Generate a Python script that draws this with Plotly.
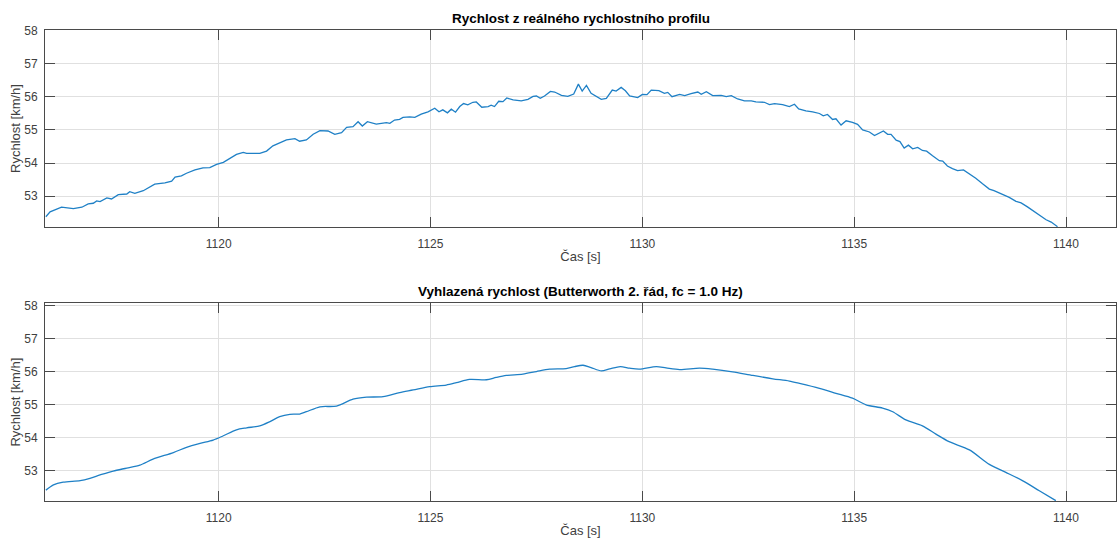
import plotly.graph_objects as go

# Raw speed profile (time [s], speed [km/h])
time_raw = [1115.92, 1116.02, 1116.29, 1116.57, 1116.77, 1116.92, 1117.04, 1117.12, 1117.20, 1117.36,
            1117.47, 1117.63, 1117.83, 1117.90, 1118.02, 1118.22, 1118.49, 1118.73, 1118.89, 1118.97,
            1119.12, 1119.24, 1119.44, 1119.63, 1119.79, 1119.95, 1120.11, 1120.26, 1120.42, 1120.58,
            1120.66, 1120.97, 1121.13, 1121.28, 1121.44, 1121.60, 1121.80, 1121.91, 1122.07, 1122.23,
            1122.39, 1122.58, 1122.74, 1122.90, 1123.02, 1123.17, 1123.29, 1123.39, 1123.51, 1123.72,
            1123.96, 1124.04, 1124.15, 1124.27, 1124.35, 1124.51, 1124.63, 1124.78, 1124.94, 1125.10,
            1125.20, 1125.29, 1125.40, 1125.49, 1125.59, 1125.69, 1125.78, 1125.88, 1126.00, 1126.08,
            1126.21, 1126.36, 1126.43, 1126.51, 1126.61, 1126.71, 1126.80, 1126.95, 1127.14, 1127.30,
            1127.42, 1127.50, 1127.59, 1127.69, 1127.83, 1127.93, 1128.09, 1128.24, 1128.38, 1128.49,
            1128.58, 1128.68, 1128.79, 1128.91, 1129.03, 1129.15, 1129.29, 1129.38, 1129.50, 1129.60,
            1129.70, 1129.89, 1130.00, 1130.11, 1130.21, 1130.39, 1130.52, 1130.60, 1130.70, 1130.88,
            1131.00, 1131.15, 1131.31, 1131.39, 1131.51, 1131.66, 1131.86, 1131.98, 1132.10, 1132.25,
            1132.41, 1132.57, 1132.68, 1132.88, 1133.00, 1133.12, 1133.31, 1133.47, 1133.59, 1133.69,
            1133.86, 1134.02, 1134.18, 1134.27, 1134.37, 1134.49, 1134.57, 1134.69, 1134.81, 1134.96,
            1135.08, 1135.20, 1135.36, 1135.48, 1135.58, 1135.69, 1135.79, 1135.87, 1135.99, 1136.08,
            1136.18, 1136.28, 1136.38, 1136.50, 1136.61, 1136.71, 1136.85, 1137.01, 1137.09, 1137.20,
            1137.32, 1137.44, 1137.58, 1137.72, 1137.87, 1138.03, 1138.19, 1138.30, 1138.46, 1138.66,
            1138.82, 1138.94, 1139.09, 1139.25, 1139.38, 1139.53, 1139.65, 1139.75, 1139.80]
speed_raw = [52.37, 52.52, 52.66, 52.62, 52.66, 52.76, 52.78, 52.85, 52.83, 52.94,
             52.91, 53.04, 53.06, 53.13, 53.08, 53.16, 53.36, 53.40, 53.45, 53.57,
             53.61, 53.69, 53.79, 53.85, 53.86, 53.96, 54.02, 54.14, 54.26, 54.32,
             54.29, 54.29, 54.36, 54.52, 54.60, 54.70, 54.74, 54.66, 54.70, 54.87,
             54.98, 54.97, 54.87, 54.92, 55.08, 55.10, 55.25, 55.12, 55.25, 55.18,
             55.22, 55.20, 55.30, 55.32, 55.38, 55.40, 55.38, 55.48, 55.55, 55.66,
             55.55, 55.61, 55.52, 55.63, 55.54, 55.71, 55.80, 55.76, 55.84, 55.85,
             55.69, 55.71, 55.75, 55.71, 55.87, 55.86, 55.97, 55.91, 55.88, 55.93,
             56.02, 56.03, 55.96, 56.03, 56.17, 56.15, 56.05, 56.02, 56.09, 56.39,
             56.18, 56.35, 56.11, 56.01, 55.93, 55.96, 56.21, 56.18, 56.29, 56.19,
             56.03, 55.98, 56.08, 56.07, 56.21, 56.19, 56.11, 56.14, 56.01, 56.08,
             56.04, 56.10, 56.15, 56.08, 56.16, 56.04, 56.05, 56.01, 56.04, 55.94,
             55.88, 55.88, 55.85, 55.84, 55.77, 55.80, 55.77, 55.71, 55.78, 55.64,
             55.58, 55.55, 55.50, 55.43, 55.47, 55.32, 55.34, 55.15, 55.28, 55.23,
             55.17, 55.00, 54.94, 54.83, 54.89, 54.97, 54.87, 54.87, 54.69, 54.65,
             54.45, 54.54, 54.43, 54.47, 54.38, 54.36, 54.22, 54.07, 54.06, 53.91,
             53.83, 53.77, 53.79, 53.67, 53.54, 53.37, 53.21, 53.16, 53.07, 52.96,
             52.84, 52.79, 52.67, 52.53, 52.43, 52.28, 52.21, 52.10, 52.07]

# Smoothed speed (Butterworth 2nd order, fc = 1.0 Hz)
time_smooth = [1115.92, 1116.10, 1116.33, 1116.73, 1116.96, 1117.20, 1117.51, 1117.83, 1118.14, 1118.45,
               1118.93, 1119.24, 1119.56, 1119.87, 1120.11, 1120.42, 1120.66, 1120.97, 1121.21, 1121.44,
               1121.68, 1121.91, 1122.07, 1122.39, 1122.78, 1123.17, 1123.49, 1123.88, 1124.27, 1124.59,
               1124.98, 1125.37, 1125.61, 1125.92, 1126.32, 1126.55, 1126.79, 1127.18, 1127.50, 1127.81,
               1128.20, 1128.40, 1128.60, 1128.79, 1129.03, 1129.23, 1129.48, 1129.70, 1129.93, 1130.33,
               1130.56, 1130.88, 1131.35, 1131.66, 1132.13, 1132.61, 1133.08, 1133.47, 1133.71, 1134.18,
               1134.57, 1134.96, 1135.28, 1135.67, 1135.91, 1136.22, 1136.61, 1136.93, 1137.24, 1137.72,
               1138.19, 1138.58, 1138.97, 1139.37, 1139.76]
speed_smooth = [52.41, 52.57, 52.65, 52.70, 52.77, 52.87, 52.99, 53.08, 53.17, 53.35,
                53.55, 53.71, 53.83, 53.93, 54.06, 54.24, 54.30, 54.36, 54.49, 54.64,
                54.71, 54.72, 54.79, 54.94, 54.96, 55.17, 55.23, 55.25, 55.37, 55.45,
                55.55, 55.60, 55.67, 55.77, 55.76, 55.83, 55.89, 55.93, 56.01, 56.08,
                56.10, 56.16, 56.20, 56.13, 56.03, 56.09, 56.16, 56.11, 56.08, 56.16,
                56.12, 56.07, 56.11, 56.08, 56.00, 55.89, 55.79, 55.72, 55.65, 55.50,
                55.35, 55.20, 55.00, 54.90, 54.79, 54.54, 54.36, 54.11, 53.88, 53.63,
                53.19, 52.95, 52.70, 52.39, 52.09]

x_ticks = [1120, 1125, 1130, 1135, 1140]
y_ticks = [53, 54, 55, 56, 57, 58]
title_top = "Rychlost z reálného rychlostního profilu"
title_bottom = "Vyhlazená rychlost (Butterworth 2. řád, fc = 1.0 Hz)"
x_label = "Čas [s]"
y_label = "Rychlost [km/h]"

LINE = "#1f80c6"
AXC = "#4a4a4a"
TXT = "#404040"
FONT = "Liberation Sans, Arial, Helvetica, sans-serif"

fig = go.Figure()
fig.add_trace(go.Scatter(x=time_raw, y=speed_raw, mode="lines",
                         line=dict(color=LINE, width=1.3), xaxis="x", yaxis="y",
                         showlegend=False))
fig.add_trace(go.Scatter(x=time_smooth, y=speed_smooth, mode="lines",
                         line=dict(color=LINE, width=1.3, shape="spline", smoothing=0.8),
                         xaxis="x2", yaxis="y2", showlegend=False))

xcommon = dict(range=[1115.9, 1141.18], tickvals=x_ticks, ticks="inside", ticklen=10,
               tickcolor=AXC, tickwidth=1, showline=True, linecolor=AXC, linewidth=1,
               mirror="allticks", showgrid=True, gridcolor="#e0e0e0", gridwidth=1,
               zeroline=False, automargin=False,
               tickfont=dict(family=FONT, size=12, color=TXT),
               ticklabelstandoff=6,
               title=dict(text=x_label, font=dict(family=FONT, size=13, color=TXT), standoff=1))
ycommon = dict(tickvals=y_ticks, ticks="inside", ticklen=10,
               tickcolor=AXC, tickwidth=1, showline=True, linecolor=AXC, linewidth=1,
               mirror="allticks", showgrid=True, gridcolor="#e0e0e0", gridwidth=1,
               zeroline=False, automargin=False,
               tickfont=dict(family=FONT, size=12, color=TXT),
               ticklabelstandoff=4,
               title=dict(text=y_label, font=dict(family=FONT, size=13, color=TXT), standoff=0))

fig.update_layout(
    width=1117, height=541,
    margin=dict(l=45, r=1, t=30, b=40, autoexpand=False),
    plot_bgcolor="white", paper_bgcolor="white",
    font=dict(family=FONT, color=TXT),
    xaxis=dict(domain=[0, 1], anchor="y", **xcommon),
    yaxis=dict(domain=[0.5817, 1.0], anchor="x", range=[52.06, 58.03], **ycommon),
    xaxis2=dict(domain=[0, 1], anchor="y2", **xcommon),
    yaxis2=dict(domain=[0.0, 0.4197], anchor="x2", range=[52.08, 58.08], **ycommon),
    annotations=[
        dict(text="<b>" + title_top + "</b>", x=0.5, y=1.0, xref="paper", yref="paper",
             xanchor="center", yanchor="bottom", yshift=2, showarrow=False,
             font=dict(family=FONT, size=13.5, color="#000000")),
        dict(text="<b>" + title_bottom + "</b>", x=0.5, y=0.4197, xref="paper", yref="paper",
             xanchor="center", yanchor="bottom", yshift=2, showarrow=False,
             font=dict(family=FONT, size=13.5, color="#000000")),
    ],
)

fig.write_html("out.html",
               config={"displayModeBar": False},
               post_script="document.body.style.margin='0';document.body.style.padding='0';"
                           "document.documentElement.style.overflow='hidden';")
